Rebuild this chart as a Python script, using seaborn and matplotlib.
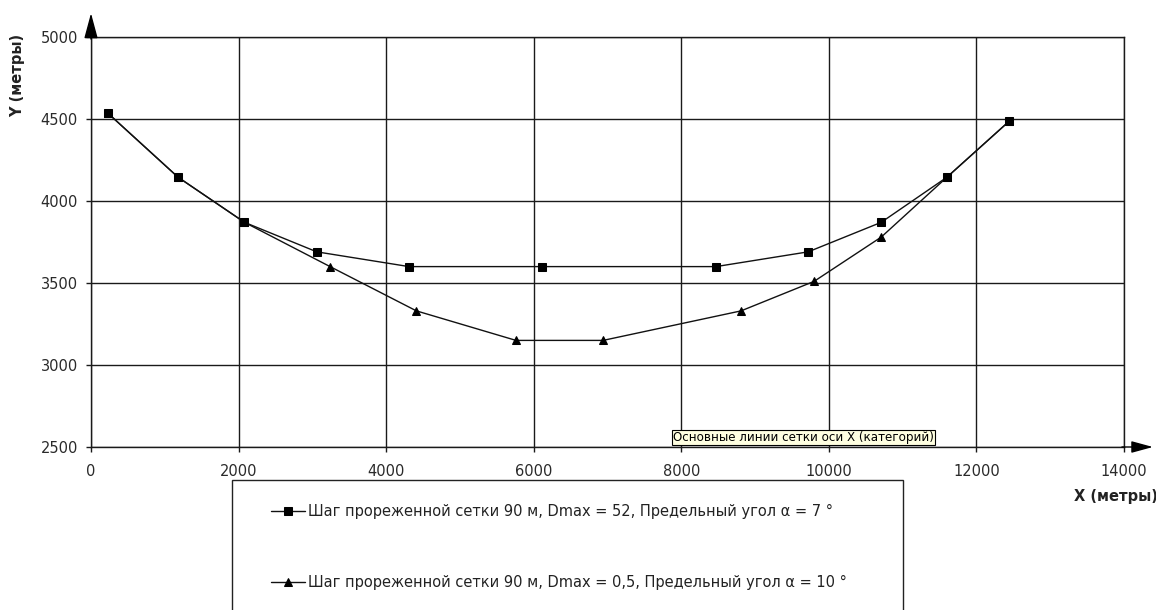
import matplotlib
matplotlib.use("Agg")
import matplotlib.pyplot as plt
from matplotlib.patches import Rectangle
import seaborn as sns

# Profile of the two thinned grids (X, Y in metres)
sq_x = [230, 1180, 2080, 3060, 4310, 6110, 8470, 9720, 10710, 11600, 12440]
sq_y = [4535, 4145, 3870, 3690, 3600, 3600, 3600, 3690, 3870, 4145, 4485]
tr_x = [230, 1180, 2080, 3240, 4410, 5760, 6940, 8810, 9800, 10710, 11600, 12440]
tr_y = [4535, 4145, 3870, 3600, 3330, 3150, 3150, 3330, 3510, 3780, 4145, 4485]

sq_label = "Шаг прореженной сетки 90 м, Dmax = 52, Предельный угол α = 7 °"
tr_label = "Шаг прореженной сетки 90 м, Dmax = 0,5, Предельный угол α = 10 °"

x_ticks = [0, 2000, 4000, 6000, 8000, 10000, 12000, 14000]
y_ticks = [2500, 3000, 3500, 4000, 4500, 5000]

sns.set_style("white")
plt.rcParams["font.family"] = ["DejaVu Sans"]

W, H = 1156, 610
fig = plt.figure(figsize=(W / 100, H / 100), dpi=100)
ax = fig.add_axes([91 / W, (H - 447) / H, (1124 - 91) / W, (447 - 37) / H])

line_col = "#111111"
sns.lineplot(x=sq_x, y=sq_y, ax=ax, sort=False, color=line_col, lw=1.0,
             marker="s", markersize=5.2, markerfacecolor="black",
             markeredgecolor="black", label=sq_label, legend=False, zorder=4)
sns.lineplot(x=tr_x, y=tr_y, ax=ax, sort=False, color=line_col, lw=1.0,
             marker="^", markersize=6.0, markerfacecolor="black",
             markeredgecolor="black", label=tr_label, legend=False, zorder=3)

ax.set_xlim(0, 14000)
ax.set_ylim(2500, 5000)
ax.set_xticks(x_ticks)
ax.set_yticks(y_ticks)
ax.set_xticklabels([str(v) for v in x_ticks])
ax.set_yticklabels([str(v) for v in y_ticks])
ax.grid(True, color="#1a1a1a", lw=1.0)
ax.set_axisbelow(True)
for side in ["left", "bottom", "right", "top"]:
    ax.spines[side].set_visible(True)
    ax.spines[side].set_color("#1a1a1a")
    ax.spines[side].set_linewidth(1.0)
ax.tick_params(axis="both", direction="out", length=3.5, width=1.0,
               color="#1a1a1a", labelsize=10.5, labelcolor="#2a2a2a",
               bottom=True, left=True)
ax.tick_params(axis="x", pad=9)
ax.tick_params(axis="y", pad=6)
ax.set_xlabel("")
ax.set_ylabel("")

# Axis arrows
ax.annotate("", xy=(0, 1.058), xytext=(0, 0.995), xycoords="axes fraction",
            annotation_clip=False,
            arrowprops=dict(arrowstyle="-|>,head_length=1.3,head_width=0.35",
                            color="black", lw=1.0, shrinkA=0, shrinkB=0,
                            mutation_scale=12))
ax.annotate("", xy=(1.028, 0), xytext=(0.998, 0), xycoords="axes fraction",
            annotation_clip=False,
            arrowprops=dict(arrowstyle="-|>,head_length=1.1,head_width=0.3",
                            color="black", lw=1.0, shrinkA=0, shrinkB=0,
                            mutation_scale=12))

# Axis titles
fig.text(18 / W, (H - 75) / H, "Y (метры)", rotation=90, ha="center",
         va="center", fontsize=10.5, fontweight="bold", color="#222222")
fig.text(1074 / W, (H - 497) / H, "X (метры)", ha="left", va="center",
         fontsize=10.5, fontweight="bold", color="#222222")

# Gridline tooltip
fig.text(673 / W, (H - 437.5) / H, "Основные линии сетки оси X (категорий)",
         ha="left", va="center", fontsize=8.6, color="black",
         bbox=dict(boxstyle="square,pad=0.12", facecolor="#FFFFE1",
                   edgecolor="black", lw=0.8))

# Legend box
fig.patches.append(Rectangle((232 / W, -0.05), (903 - 232) / W,
                             (H - 480) / H + 0.05, transform=fig.transFigure,
                             facecolor="white", edgecolor="#222222", lw=1.0))
handles, labels = ax.get_legend_handles_labels()
fig.legend(handles, labels, loc="upper left",
           bbox_to_anchor=(271 / W, (H - 504) / H), frameon=False,
           borderpad=0, borderaxespad=0, handlelength=2.3, handletextpad=0.25,
           labelspacing=3.85, fontsize=10.5, labelcolor="#222222")

fig.savefig("out.png", dpi=100)
